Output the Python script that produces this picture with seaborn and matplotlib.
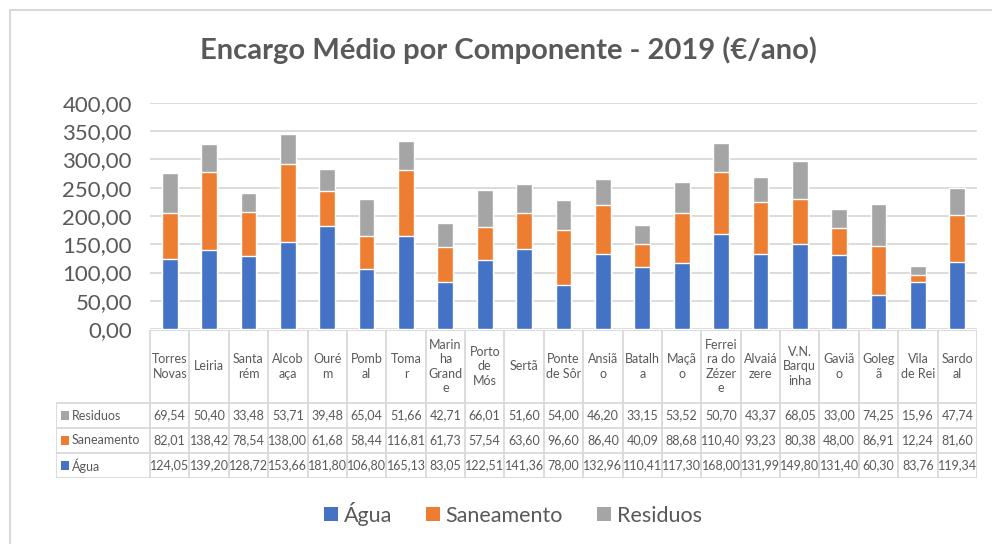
import matplotlib
matplotlib.use("Agg")
import matplotlib.pyplot as plt
import seaborn as sns
import pandas as pd
from matplotlib.lines import Line2D
from matplotlib.patches import Rectangle

# ---------------------------
# Data (Encargo médio por componente, 2019, €/ano)
# ---------------------------
cities = ["Torres\nNovas", "Leiria", "Santa\nrém", "Alcob\naça", "Ouré\nm",
          "Pomb\nal", "Toma\nr", "Marin\nha\nGrand\ne", "Porto\nde\nMós",
          "Sertã", "Ponte\nde Sôr", "Ansiã\no", "Batalh\na", "Maçã\no",
          "Ferrei\nra do\nZézer\ne", "Alvaiá\nzere", "V.N.\nBarqu\ninha",
          "Gaviã\no", "Goleg\nã", "Vila\nde Rei", "Sardo\nal"]
agua = [124.05, 139.20, 128.72, 153.66, 181.80, 106.80, 165.13, 83.05, 122.51,
        141.36, 78.00, 132.96, 110.41, 117.30, 168.00, 131.99, 149.80, 131.40,
        60.30, 83.76, 119.34]
saneamento = [82.01, 138.42, 78.54, 138.00, 61.68, 58.44, 116.81, 61.73, 57.54,
              63.60, 96.60, 86.40, 40.09, 88.68, 110.40, 93.23, 80.38, 48.00,
              86.91, 12.24, 81.60]
residuos = [69.54, 50.40, 33.48, 53.71, 39.48, 65.04, 51.66, 42.71, 66.01,
            51.60, 54.00, 46.20, 33.15, 53.52, 50.70, 43.37, 68.05, 33.00,
            74.25, 15.96, 47.74]

series_names = ["Água", "Saneamento", "Residuos"]
colors = {"Água": "#4472C4", "Saneamento": "#ED7D31", "Residuos": "#A5A5A5"}
text_color = "#595959"
grid_color = "#D9D9D9"

df = pd.DataFrame({"city": cities, "Água": agua,
                   "Saneamento": saneamento, "Residuos": residuos})
df["agua_san"] = df["Água"] + df["Saneamento"]
df["total"] = df["agua_san"] + df["Residuos"]

sns.set_style("white")
plt.rcParams["font.family"] = ["Lato", "DejaVu Sans"]

W, H = 992, 544
fig = plt.figure(figsize=(W / 100, H / 100), dpi=100)

# plot area in pixels
px_left, px_right, px_top, px_bottom = 150, 977, 103, 329
ax = fig.add_axes([px_left / W, 1 - px_bottom / H,
                   (px_right - px_left) / W, (px_bottom - px_top) / H])

# stacked bars by overplotting cumulative totals
sns.barplot(data=df, x="city", y="total", color=colors["Residuos"],
            saturation=1, width=0.4, ax=ax)
sns.barplot(data=df, x="city", y="agua_san", color=colors["Saneamento"],
            saturation=1, width=0.4, ax=ax)
sns.barplot(data=df, x="city", y="Água", color=colors["Água"],
            saturation=1, width=0.4, ax=ax)

ax.set_xlim(-0.5, len(cities) - 0.5)
ax.set_ylim(0, 400)
ax.set_yticks(range(0, 401, 50))
ax.set_yticklabels([f"{v:.2f}".replace(".", ",") for v in range(0, 401, 50)])
ax.tick_params(axis="y", length=0, labelsize=16, labelcolor=text_color, pad=13)
ax.tick_params(axis="x", length=0, labelbottom=False)
ax.set_xlabel("")
ax.set_ylabel("")
ax.yaxis.grid(True, color=grid_color, lw=1.3)
ax.set_axisbelow(True)
for s in ax.spines.values():
    s.set_visible(False)

# ---------------------------
# Data table below the chart
# ---------------------------
tb_left, tb_top, tb_bottom = 56, 330, 478
tax = fig.add_axes([tb_left / W, 1 - tb_bottom / H,
                    (px_right - tb_left) / W, (tb_bottom - tb_top) / H])
col_w = (px_right - px_left) / len(cities)
x_min = -0.5 - (px_left - tb_left) / col_w
n = len(cities)
head_h = 73 / 25.0
tax.set_xlim(x_min, n - 0.5)
tax.set_ylim(0, 3 + head_h)
tax.axis("off")

lw = 1.3
# horizontal lines
tax.plot([-0.5, n - 0.5], [3 + head_h] * 2, color=grid_color, lw=lw, solid_capstyle="butt")
for yy in [0, 1, 2, 3]:
    tax.plot([x_min, n - 0.5], [yy] * 2, color=grid_color, lw=lw, solid_capstyle="butt")
# vertical lines
for i in range(n + 1):
    tax.plot([i - 0.5] * 2, [0, 3 + head_h], color=grid_color, lw=lw, solid_capstyle="butt")
tax.plot([x_min] * 2, [0, 3], color=grid_color, lw=lw, solid_capstyle="butt")

# header
for i, c in enumerate(cities):
    tax.text(i, 3 + head_h / 2, c, ha="center", va="center", fontsize=9,
             color=text_color, linespacing=1.25)

# rows (top to bottom: Residuos, Saneamento, Água)
row_data = {"Residuos": residuos, "Saneamento": saneamento, "Água": agua}
for r, name in enumerate(["Água", "Saneamento", "Residuos"]):
    yc = r + 0.5
    tax.add_patch(Rectangle((x_min + 5 / col_w, yc - 0.17), 8 / col_w, 0.34,
                            color=colors[name], lw=0))
    tax.text(x_min + 16 / col_w, yc, name, ha="left", va="center",
             fontsize=9, color=text_color)
    for i, v in enumerate(row_data[name]):
        tax.text(i, yc, f"{v:.2f}".replace(".", ","), ha="center", va="center",
                 fontsize=9, color=text_color)

# title
fig.text(508 / W, 1 - 50 / H, "Encargo Médio por Componente - 2019 (€/ano)",
         ha="center", va="center", fontsize=21, fontweight="bold", color=text_color)

# legend
handles = [Line2D([0], [0], marker="s", linestyle="", markersize=10,
                  markerfacecolor=colors[s], markeredgewidth=0) for s in series_names]
fig.legend(handles, series_names, loc="center", bbox_to_anchor=(512 / W, 1 - 514 / H),
           ncol=3, frameon=False, fontsize=15.5, labelcolor=text_color,
           handletextpad=0.2, columnspacing=1.5, handlelength=0.8)

# outer chart border (top and left visible)
fig.add_artist(Line2D([10 / W, 1], [1 - 10 / H] * 2, color=grid_color, lw=1.5))
fig.add_artist(Line2D([10 / W] * 2, [0, 1 - 10 / H], color=grid_color, lw=1.5))

fig.savefig("out.png", dpi=100)
